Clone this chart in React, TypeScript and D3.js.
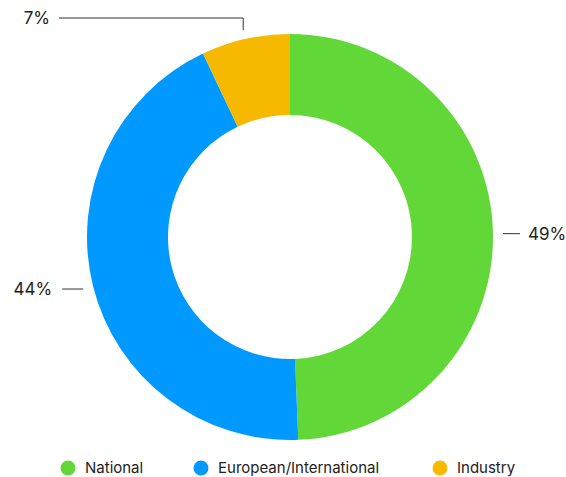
import React from "react";
import * as d3 from "d3";

const categories = ["National", "European/International", "Industry"];
const values = [49.35, 43.6, 7.05];
const colors = ["#62D838", "#0099FF", "#F7B800"];

const W = 566;
const H = 477;
const cx = 290;
const cy = 237;
const outerR = 203;
const innerR = 122;

export default function App() {
  const pie = d3.pie<number>().sort(null).value((d) => d);
  const arcs = pie(values);
  const arc = d3.arc<d3.PieArcDatum<number>>().innerRadius(innerR).outerRadius(outerR);
  const font = "Inter, 'Noto Sans', sans-serif";

  const labels = arcs.map((a, i) => {
    const mid = (a.startAngle + a.endAngle) / 2;
    const r = outerR + 10;
    const x0 = cx + Math.sin(mid) * r;
    const y0 = cy - Math.cos(mid) * r + 1;
    const txt = `${Math.round(values[i])}%`;
    if (i === 2) {
      const yTop = 18;
      const xEnd = 59;
      return (
        <g key={i}>
          <polyline points={`${x0},${y0} ${x0},${yTop} ${xEnd},${yTop}`} fill="none" stroke="#333" strokeWidth={1} />
          <text x={xEnd - 9} y={yTop} dy="0.35em" textAnchor="end" fontSize={17} fill="#222" fontFamily={font}>{txt}</text>
        </g>
      );
    }
    const right = Math.sin(mid) > 0;
    const x1 = x0 + (right ? 17 : -21);
    return (
      <g key={i}>
        <line x1={x0} y1={y0} x2={x1} y2={y0} stroke="#333" strokeWidth={1} />
        <text x={x1 + (right ? 8 : -10)} y={y0} dy="0.35em" textAnchor={right ? "start" : "end"} fontSize={17} fill="#222" fontFamily={font}>{txt}</text>
      </g>
    );
  });

  const legendX = [68, 201, 440];
  return (
    <svg width={W} height={H} style={{ position: "absolute", left: 0, top: 0 }}>
      <rect width={W} height={H} fill="#fff" />
      {arcs.map((a, i) => (
        <path key={i} d={arc(a) || ""} transform={`translate(${cx},${cy})`} fill={colors[i]} />
      ))}
      {labels}
      {categories.map((c, i) => (
        <g key={c} transform={`translate(${legendX[i]},468)`}>
          <circle r={7.5} fill={colors[i]} />
          <text x={17} dy="0.35em" fontSize={15} fill="#222" fontFamily={font}>{c}</text>
        </g>
      ))}
    </svg>
  );
}
